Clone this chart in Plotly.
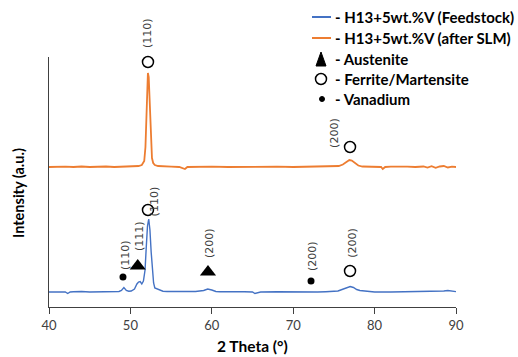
import plotly.graph_objects as go

# ---- data (intensity in arbitrary units) ----
feed_x = [40, 41, 42, 42.3, 42.6, 43, 44, 45, 46, 47, 48, 48.6, 48.9, 49.2, 49.5, 49.8, 50.1, 50.5, 50.8,
          51.0, 51.2, 51.4, 51.6, 51.8, 51.95, 52.1, 52.25, 52.4, 52.55, 52.7, 52.85, 53.0, 53.3, 53.6,
          54.0, 54.5, 56, 57, 58, 59.0, 59.5, 60.0, 60.5, 61, 62, 63, 64, 65, 65.3, 66, 68, 70, 71,
          72, 73, 74, 75, 75.5, 76.0, 76.5, 77.0, 77.4, 77.8, 78.2, 78.6, 79.0, 79.5, 80, 82, 84,
          86, 87.5, 88.0, 88.5, 89.0, 89.4, 89.8, 90]
feed_y = [0, 0.3, 0, -1.5, 0, 0.2, 0.5, 0, 0.2, 0, 0.3, 0.5, 1.5, 4.5, 1.5, 0.8, 1, 3, 8,
          10, 10.5, 8, 11, 22, 45, 66, 73, 62, 40, 20, 9, 4, 3, 1.5,
          0.8, 0.5, 0.3, 0, 0.5, 1.5, 3, 2, 0.5, 0.3, 0, 0.2, 0.3, 0, -1.5, 0, 0.3, 0, 0.5,
          0.3, 0, 0.3, 0.5, 1, 2.5, 4, 5.5, 4.5, 2.5, 1.5, 1.2, 0.5, 0.3, 0, 0, 0.2,
          0, 0.3, 0.8, 1, 1.5, 1.2, 0.6, 0.4]

slm_x = [40, 41, 42, 43, 44, 45, 46, 47, 48, 49, 50, 50.6, 51.0, 51.4, 51.7, 51.85, 51.95, 52.05, 52.15,
         52.25, 52.35, 52.5, 52.65, 52.8, 53.0, 53.4, 54, 55, 56, 56.5, 56.7, 57, 58, 60, 62, 64,
         66, 68, 70, 72, 73, 74, 75, 75.6, 76.1, 76.5, 76.9, 77.2, 77.6, 78.0, 78.5, 79, 80,
         80.8, 81.0, 81.3, 82, 83, 84, 85, 86, 86.5, 87, 87.5, 88, 88.5, 89, 89.5, 90]
slm_y = [0, 0.5, 0.3, 0, 0.5, 0, 0.3, 0.5, 0, 0.3, 0.5, 0.8, 1, 2, 6, 20, 45, 78, 94,
         90, 65, 28, 9, 4, 2, 1, 0.5, 0.3, 0, -1, -2, 0, 0.3, 0.3, 0, 0.3,
         0, 0.3, 0, 0.3, 0.5, 0.3, 0.5, 1, 2.5, 4.5, 7, 6.5, 4, 1.5, 0.5, 0.3, 0.3,
         0, -2, 0, 0.3, 0.5, 0.3, 0, 0.5, -0.5, 0.8, -0.8, 0.5, 1, -0.5, 0.3, 0]
slm_offset = 125

x_ticks = [40, 50, 60, 70, 80, 90]
y_range = [-15, 235]

# phase markers
ferrite_x = [52.16, 76.98, 52.16, 76.98]
ferrite_y = [230, 145, 82, 21]
austenite_x = [50.9, 59.53]
austenite_y = [26, 20]
vanadium_x = [49.09, 72.19]
vanadium_y = [15, 11]

label_x = [52.16, 75.0, 52.95, 51.06, 49.34, 59.66, 72.3, 77.2]
label_y = [259, 159, 91, 56, 37, 49, 36, 49]
label_text = ["(110)", "(200)", "(110)", "(111)", "(110)", "(200)", "(200)", "(200)"]

legend_labels = ["- H13+5wt.%V (Feedstock)", "- H13+5wt.%V (after SLM)", "- Austenite",
                 "- Ferrite/Martensite", "- Vanadium"]

BLUE = "#4472C4"
ORANGE = "#ED7D31"
W, H = 518, 357
L, R, T, B = 49, 456, 57, 307


def px(xp):
    return (xp - L) / (R - L)


def py(yp):
    return (B - yp) / (B - T)


def data_to_paper_y(v):
    return (v - y_range[0]) / (y_range[1] - y_range[0])


fig = go.Figure()
fig.add_trace(go.Scatter(x=feed_x, y=feed_y, mode="lines", line=dict(color=BLUE, width=1.4),
                         showlegend=False))
fig.add_trace(go.Scatter(x=slm_x, y=[v + slm_offset for v in slm_y], mode="lines",
                         line=dict(color=ORANGE, width=1.8), showlegend=False))
fig.add_trace(go.Scatter(x=ferrite_x, y=ferrite_y, mode="markers", cliponaxis=False,
                         marker=dict(symbol="circle-open", size=11, color="black",
                                     line=dict(width=1.5, color="black")), showlegend=False))
fig.add_trace(go.Scatter(x=austenite_x, y=austenite_y, mode="markers", cliponaxis=False,
                         marker=dict(symbol="triangle-up", size=14, color="black"), showlegend=False))
fig.add_trace(go.Scatter(x=vanadium_x, y=vanadium_y, mode="markers", cliponaxis=False,
                         marker=dict(symbol="circle", size=7, color="black"), showlegend=False))

for lx, ly, lt in zip(label_x, label_y, label_text):
    fig.add_annotation(x=lx, yref="paper", y=data_to_paper_y(ly), text=lt, textangle=-90, showarrow=False,
                       xanchor="center", yanchor="middle",
                       font=dict(family="DejaVu Sans", size=11, color="#404040"))

# custom legend
rows_y = [17, 38, 59, 79, 99]
for i, (lab, ry) in enumerate(zip(legend_labels, rows_y)):
    fig.add_annotation(xref="paper", yref="paper", x=px(333), y=py(ry), text="<b>%s</b>" % lab,
                       xanchor="left", yanchor="middle", showarrow=False,
                       font=dict(family="Lato", size=15, color="black"))
for ry, col in zip(rows_y[:2], [BLUE, ORANGE]):
    fig.add_shape(type="line", xref="paper", yref="paper", x0=px(312), x1=px(331), y0=py(ry), y1=py(ry),
                  line=dict(color=col, width=2))
# triangle
fig.add_shape(type="path", xref="paper", yref="paper",
              path="M %f %f L %f %f L %f %f Z" % (px(316), py(66), px(326), py(66), px(321), py(52)),
              fillcolor="black", line=dict(color="black", width=1))
fig.add_shape(type="circle", xref="paper", yref="paper", x0=px(315.5), x1=px(326.5), y0=py(84.5), y1=py(73.5),
              line=dict(color="black", width=1.5))
fig.add_shape(type="circle", xref="paper", yref="paper", x0=px(319.5), x1=px(324.5), y0=py(101.5), y1=py(96.5),
              fillcolor="black", line=dict(color="black", width=1))

# axis titles
fig.add_annotation(xref="paper", yref="paper", x=px(18), y=py(193), text="<b>Intensity (a.u.)</b>",
                   textangle=-90, showarrow=False, xanchor="center", yanchor="middle",
                   font=dict(family="Lato", size=14.5, color="black"))
fig.add_annotation(xref="paper", yref="paper", x=px(252), y=py(346), text="<b>2 Theta (°)</b>",
                   showarrow=False, xanchor="center", yanchor="middle",
                   font=dict(family="Lato", size=15.5, color="black"))

fig.update_layout(
    width=W, height=H, margin=dict(l=L, r=W - R, t=T, b=H - B),
    paper_bgcolor="white", plot_bgcolor="white",
    xaxis=dict(range=[40, 90], tickvals=x_ticks, ticks="outside", ticklen=6, tickcolor="#404040",
               showline=True, linecolor="#404040", linewidth=1, showgrid=False, zeroline=False,
               tickfont=dict(family="Lato", size=13, color="#404040")),
    yaxis=dict(range=y_range, showticklabels=False, ticks="", showline=True, linecolor="#404040",
               linewidth=1, showgrid=False, zeroline=False),
    showlegend=False,
)
fig.write_html("out.html")
